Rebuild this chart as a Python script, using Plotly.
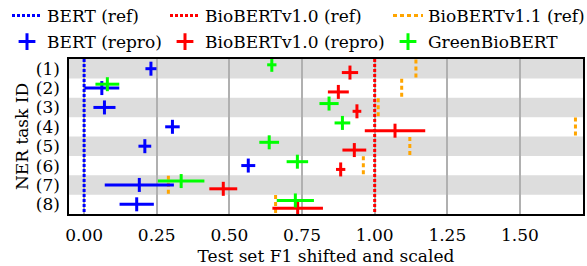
import plotly.graph_objects as go

task_labels = ["(1)", "(2)", "(3)", "(4)", "(5)", "(6)", "(7)", "(8)"]

bert_ref = 0.0
biobert10_ref = 1.0
biobert11_ref = [1.142, 1.093, 1.012, 1.691, 1.121, 0.961, 0.290, 0.659]

bert_repro_mean = [0.230, 0.061, 0.070, 0.304, 0.209, 0.565, 0.190, 0.181]
bert_repro_err = [0.019, 0.060, 0.038, 0.025, 0.022, 0.024, 0.119, 0.059]

biobert10_repro_mean = [0.915, 0.875, 0.939, 1.070, 0.930, 0.883, 0.479, 0.735]
biobert10_repro_err = [0.028, 0.036, 0.015, 0.104, 0.041, 0.016, 0.048, 0.087]

green_mean = [0.646, 0.080, 0.843, 0.889, 0.637, 0.734, 0.334, 0.727]
green_err = [0.016, 0.041, 0.033, 0.027, 0.034, 0.037, 0.080, 0.064]

x_ticks = [0.0, 0.25, 0.5, 0.75, 1.0, 1.25, 1.5]

FONT = "DejaVu Serif"
FS = 17
BLUE = "#0000ff"
RED = "#ff0000"
ORANGE = "#ffa500"
GREEN = "#00ff00"

W, H = 587, 266
ML, MR, MT, MB = 69, 4, 59, 52
n = len(task_labels)
rows = list(range(n))
fig = go.Figure()

# grey stripes on alternating rows
for i in rows:
    if i % 2 == 0:
        fig.add_shape(type="rect", xref="paper", yref="y", x0=0, x1=1,
                      y0=i - 0.5, y1=i + 0.5, fillcolor="#dddddd",
                      line_width=0, layer="below")

# reference lines
fig.add_trace(go.Scatter(x=[bert_ref, bert_ref], y=[-0.5, n - 0.5], mode="lines",
                         line=dict(color=BLUE, width=3, dash="3px,2px"),
                         name="BERT (ref)", legend="legend", showlegend=True))
fig.add_trace(go.Scatter(x=[biobert10_ref, biobert10_ref], y=[-0.5, n - 0.5], mode="lines",
                         line=dict(color=RED, width=3, dash="3px,2px"),
                         name="BioBERTv1.0 (ref)", legend="legend2", showlegend=True))
ox, oy = [], []
for i, v in enumerate(biobert11_ref):
    ox += [v, v, None]
    oy += [i - 0.48, i + 0.48, None]
fig.add_trace(go.Scatter(x=ox, y=oy, mode="lines",
                         line=dict(color=ORANGE, width=3, dash="4px,3px"),
                         name="BioBERTv1.1 (ref)", legend="legend3", showlegend=True))

def repro(mean, err, color, offset, name, leg):
    fig.add_trace(go.Scatter(
        x=mean, y=[i + offset for i in rows], mode="markers",
        marker=dict(symbol="line-ns", size=10, line=dict(color=color, width=3), color=color),
        error_x=dict(type="data", array=err, color=color, thickness=3, width=0),
        showlegend=False, name=name))
    fig.add_trace(go.Scatter(
        x=[None], y=[None], mode="markers", name=name, legend=leg,
        marker=dict(symbol="cross-thin", size=12, line=dict(color=color, width=3), color=color)))

repro(bert_repro_mean, bert_repro_err, BLUE, 0.0, "BERT (repro)", "legend4")
repro(biobert10_repro_mean, biobert10_repro_err, RED, 0.2, "BioBERTv1.0 (repro)", "legend5")
repro(green_mean, green_err, GREEN, -0.2, "GreenBioBERT", "legend6")

PW = W - ML - MR
PH = H - MT - MB

def leg(left_px, center_px):
    return dict(xref="paper", yref="paper", x=(left_px - ML) / PW,
                y=1 + (MT - center_px) / PH,
                xanchor="left", yanchor="middle", orientation="v",
                font=dict(family=FONT, size=FS, color="black"),
                bgcolor="rgba(0,0,0,0)", itemwidth=30, borderwidth=0)

fig.update_layout(
    width=W, height=H,
    margin=dict(l=ML, r=MR, t=MT, b=MB, autoexpand=False),
    plot_bgcolor="white", paper_bgcolor="white",
    font=dict(family=FONT, size=FS, color="black"),
    legend=leg(7, 16), legend2=leg(165, 16), legend3=leg(388, 16),
    legend4=leg(7, 42), legend5=leg(165, 42), legend6=leg(388, 42),
    xaxis=dict(range=[-0.052, 1.717], tickvals=x_ticks,
               ticktext=[f"{t:.2f}" for t in x_ticks],
               showgrid=True, gridcolor="#b0b0b0", gridwidth=1.5,
               zeroline=False, showline=True, linecolor="black", linewidth=1.5,
               mirror=True, ticks="outside", ticklen=5, tickcolor="rgba(0,0,0,0)",
               title=dict(text="Test set F1 shifted and scaled", standoff=6,
                          font=dict(family=FONT, size=FS)),
               tickfont=dict(family=FONT, size=FS)),
    yaxis=dict(range=[n - 0.5, -0.5], tickvals=rows, ticktext=task_labels,
               showgrid=False, zeroline=False, showline=True, linecolor="black",
               linewidth=1.5, mirror=True, ticks="outside", ticklen=4,
               tickcolor="rgba(0,0,0,0)",
               title=dict(text="NER task ID", standoff=3, font=dict(family=FONT, size=FS)),
               tickfont=dict(family=FONT, size=FS)),
)

post = "document.body.style.margin='0px';document.body.style.padding='0px';"

fig.write_html("out.html", config={"displayModeBar": False}, post_script=post)
